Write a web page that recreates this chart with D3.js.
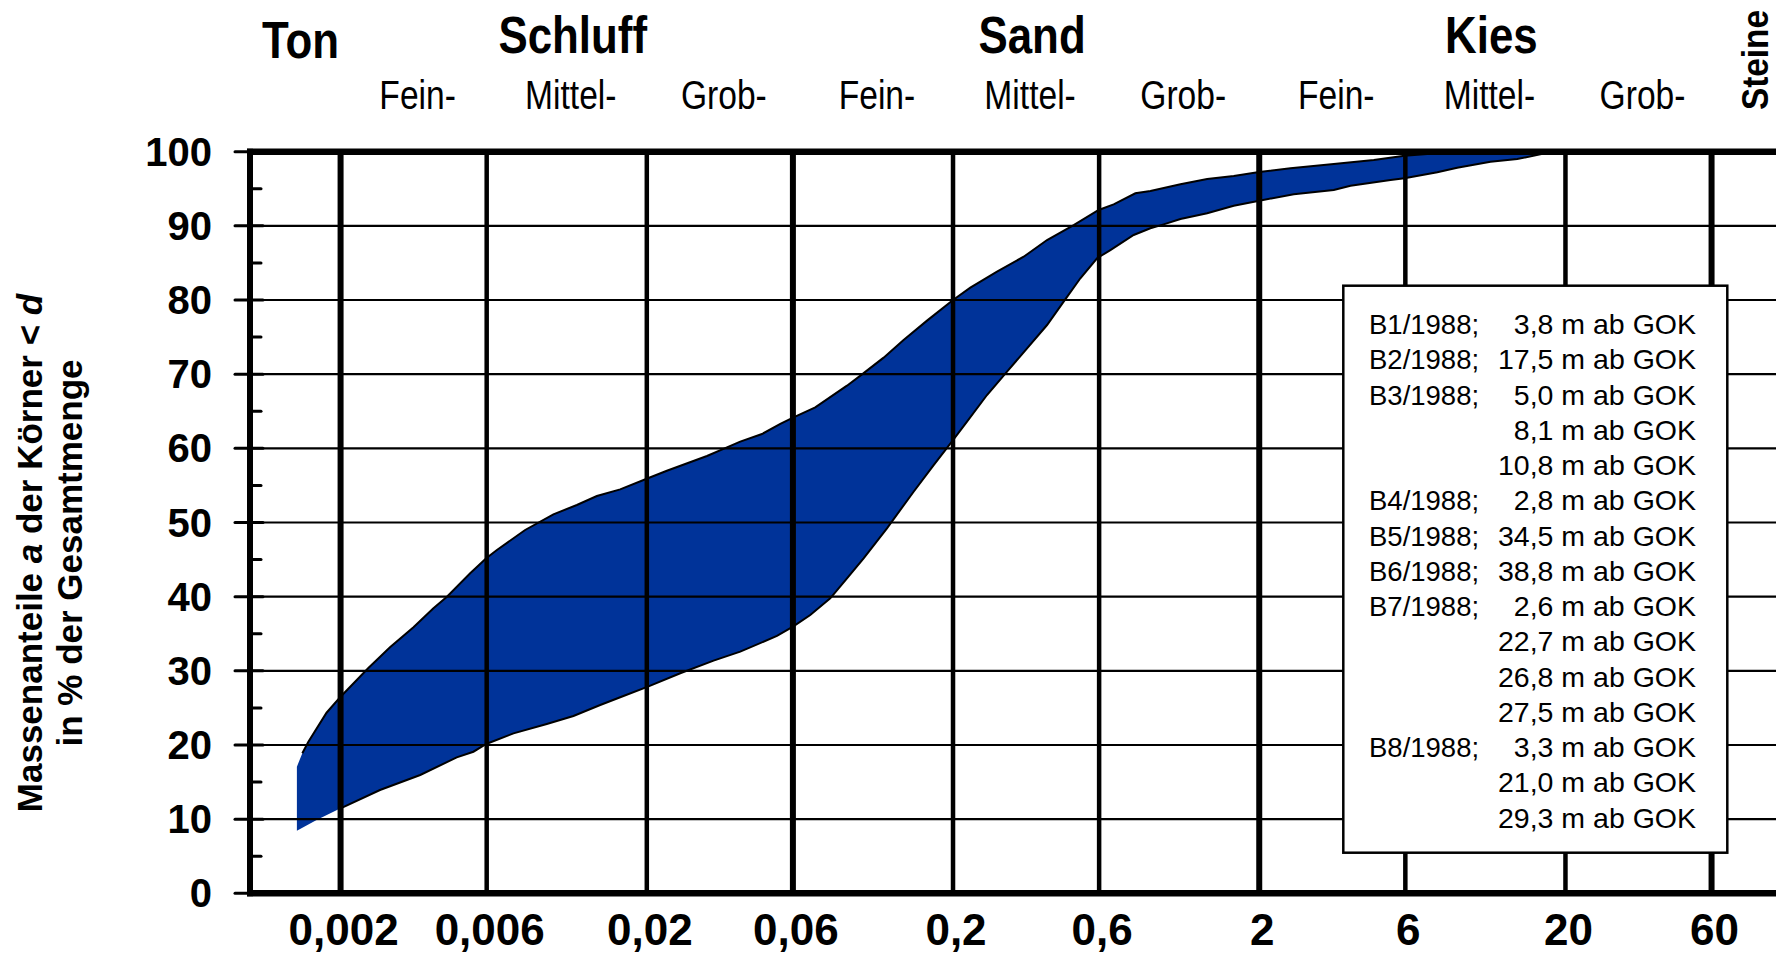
<!DOCTYPE html>
<html><head><meta charset="utf-8">
<script src="https://cdn.jsdelivr.net/npm/d3@7"></script>
<style>body{margin:0;background:#fff} svg{display:block}</style>
</head><body>
<svg id="c" width="1776" height="962"></svg>
<script>
// ---------------- data ----------------
const xTicks = [0.002, 0.006, 0.02, 0.06, 0.2, 0.6, 2, 6, 20, 60];
const xTickLabels = ["0,002", "0,006", "0,02", "0,06", "0,2", "0,6", "2", "6", "20", "60"];
const majorBounds = [0.002, 0.06, 2, 60];
const yTicks = [0, 10, 20, 30, 40, 50, 60, 70, 80, 90, 100];
const yMinorTicks = [5, 15, 25, 35, 45, 55, 65, 75, 85, 95];

const mainClasses = ["Ton", "Schluff", "Sand", "Kies"];
const mainBounds = [[0.001, 0.002], [0.002, 0.06], [0.06, 2], [2, 60]];
const stoneLabel = "Steine";
const subClasses = ["Fein-", "Mittel-", "Grob-", "Fein-", "Mittel-", "Grob-", "Fein-", "Mittel-", "Grob-"];
const subBounds = [[0.002, 0.006], [0.006, 0.02], [0.02, 0.06], [0.06, 0.2], [0.2, 0.6], [0.6, 2], [2, 6], [6, 20], [20, 60]];

// grain size curve envelope: [diameter in mm, passing %]
const upperCurve = [
  [0.00144, 17.07], [0.0015, 18.88], [0.00157, 20.44], [0.0018, 24.35], [0.002, 26.51], [0.00246, 30.34],
  [0.0029, 33.17], [0.00346, 35.87], [0.00402, 38.43], [0.00445, 40.0], [0.0053, 43.15], [0.00598, 45.17],
  [0.00648, 46.29], [0.00801, 48.99], [0.00991, 51.1], [0.01182, 52.36], [0.01374, 53.57], [0.01637, 54.47],
  [0.02017, 55.96], [0.02326, 56.98], [0.03144, 58.97], [0.03654, 60.14], [0.04038, 60.9], [0.04755, 61.93],
  [0.05458, 63.3], [0.06004, 64.14], [0.07098, 65.53], [0.0901, 68.45], [0.1009, 69.98], [0.1187, 72.23],
  [0.1379, 74.61], [0.1645, 77.22], [0.2, 80.0], [0.2278, 81.66], [0.2784, 83.82], [0.3402, 85.84],
  [0.4056, 88.09], [0.4954, 90.11], [0.598, 92.14], [0.6694, 92.9], [0.788, 94.39], [0.8822, 94.7],
  [1.106, 95.6], [1.352, 96.32], [1.651, 96.72], [2.0, 97.25], [2.529, 97.76], [3.503, 98.34],
  [4.733, 98.88], [5.96, 99.46], [7.63, 99.78], [8.8, 100]
];
const lowerCurve = [
  [0.00144, 8.44], [0.00167, 9.88], [0.002, 11.46], [0.00269, 13.93], [0.00364, 15.95], [0.00479, 18.33],
  [0.00543, 19.09], [0.00598, 20.13], [0.00734, 21.57], [0.00943, 22.83], [0.01152, 23.91], [0.01409, 25.39],
  [0.01678, 26.6], [0.02017, 27.86], [0.02572, 29.67], [0.03304, 31.37], [0.04038, 32.58], [0.05322, 34.7],
  [0.06004, 35.95], [0.06836, 37.53], [0.07945, 39.78], [0.0901, 42.47], [0.1021, 45.17], [0.1217, 49.22],
  [0.1487, 54.15], [0.1729, 57.75], [0.2, 61.12], [0.2222, 63.59], [0.2582, 67.19], [0.3002, 70.34],
  [0.349, 73.49], [0.4056, 76.63], [0.4596, 79.78], [0.521, 82.93], [0.5908, 85.63], [0.653, 86.74],
  [0.778, 88.77], [0.8822, 89.67], [0.975, 90.2], [1.106, 90.92], [1.352, 91.69], [1.651, 92.72],
  [2.0, 93.4], [2.593, 94.26], [3.503, 94.84], [3.972, 95.42], [5.367, 96.18], [5.96, 96.41],
  [7.63, 97.22], [8.86, 97.84], [11.38, 98.65], [13.92, 99.01], [17.0, 99.75], [20.0, 100]
];

const legendBore = ["B1/1988;", "B2/1988;", "B3/1988;", "", "", "B4/1988;", "B5/1988;", "B6/1988;",
                    "B7/1988;", "", "", "", "B8/1988;", "", ""];
const legendDepth = ["3,8 m ab GOK", "17,5 m ab GOK", "5,0 m ab GOK", "8,1 m ab GOK", "10,8 m ab GOK",
                     "2,8 m ab GOK", "34,5 m ab GOK", "38,8 m ab GOK", "2,6 m ab GOK", "22,7 m ab GOK",
                     "26,8 m ab GOK", "27,5 m ab GOK", "3,3 m ab GOK", "21,0 m ab GOK", "29,3 m ab GOK"];

const yTitle1 = ["Massenanteile ", "a", " der Körner < ", "d"];
const yTitle2 = "in % der Gesamtmenge";

// ---------------- drawing ----------------
(function () {
const svg = d3.select("#c");
const FONT = "'Liberation Sans', Arial, Helvetica, sans-serif";
const x = d3.scaleLog().domain([0.001, 100]).range([248.4, 1779.5]);
const y = d3.scaleLinear().domain([0, 100]).range([893.3, 151.7]);
const pLeft = 250, pRight = 1776, pTop = y(100), pBottom = y(0);

svg.append("rect").attr("width", 1776).attr("height", 962).attr("fill", "#fff");

// band
const poly = upperCurve.concat(lowerCurve.slice().reverse());
const line = d3.line().x(d => x(d[0])).y(d => y(d[1]));
svg.append("path").attr("d", line(poly) + "Z").attr("fill", "#003399");
svg.append("path").attr("d", line(upperCurve.filter(d => d[0] >= 0.0015)))
  .attr("fill", "none").attr("stroke", "#000").attr("stroke-width", 2);
svg.append("path").attr("d", line(lowerCurve.filter(d => d[0] >= 0.0019)))
  .attr("fill", "none").attr("stroke", "#000").attr("stroke-width", 2);

// horizontal grid
svg.append("g").selectAll("line").data(yTicks.filter(v => v > 0 && v < 100)).join("line")
  .attr("x1", pLeft).attr("x2", pRight).attr("y1", d => y(d)).attr("y2", d => y(d))
  .attr("stroke", "#000").attr("stroke-width", 2.2);

// vertical grid
svg.append("g").selectAll("line").data(xTicks).join("line")
  .attr("x1", d => x(d)).attr("x2", d => x(d)).attr("y1", pTop).attr("y2", pBottom)
  .attr("stroke", "#000").attr("stroke-width", d => majorBounds.includes(d) ? 6 : 4.5);

// frame
svg.append("line").attr("x1", pLeft - 3).attr("x2", pRight).attr("y1", pTop).attr("y2", pTop)
  .attr("stroke", "#000").attr("stroke-width", 6.5);
svg.append("line").attr("x1", pLeft - 3).attr("x2", pRight).attr("y1", pBottom).attr("y2", pBottom)
  .attr("stroke", "#000").attr("stroke-width", 6.5);
svg.append("line").attr("x1", pLeft).attr("x2", pLeft).attr("y1", pTop - 3).attr("y2", pBottom + 3)
  .attr("stroke", "#000").attr("stroke-width", 6);

// y ticks
svg.append("g").selectAll("line").data(yTicks).join("line")
  .attr("x1", 235).attr("x2", 263).attr("y1", d => y(d)).attr("y2", d => y(d))
  .attr("stroke", "#000").attr("stroke-width", 3).attr("stroke-linecap", "round");
svg.append("g").selectAll("line").data(yMinorTicks).join("line")
  .attr("x1", pLeft).attr("x2", 261).attr("y1", d => y(d)).attr("y2", d => y(d))
  .attr("stroke", "#000").attr("stroke-width", 3).attr("stroke-linecap", "round");
svg.append("g").selectAll("text").data(yTicks).join("text")
  .attr("x", 212).attr("y", d => y(d) + 14).attr("text-anchor", "end")
  .attr("font-family", FONT).attr("font-weight", "bold").attr("font-size", 40)
  .text(d => d);

// x labels
svg.append("g").selectAll("text").data(xTicks).join("text")
  .attr("x", d => x(d) + 3).attr("y", 945).attr("text-anchor", "middle")
  .attr("font-family", FONT).attr("font-weight", "bold").attr("font-size", 44)
  .text((d, i) => xTickLabels[i]);

// y title
const t1 = svg.append("text").attr("transform", "translate(42,553) rotate(-90)")
  .attr("text-anchor", "middle").attr("font-family", FONT).attr("font-weight", "bold").attr("font-size", 35);
yTitle1.forEach((s, i) => t1.append("tspan").attr("font-style", i % 2 === 1 ? "italic" : "normal").text(s));
svg.append("text").attr("transform", "translate(82,553) rotate(-90)")
  .attr("text-anchor", "middle").attr("font-family", FONT).attr("font-weight", "bold").attr("font-size", 35)
  .text(yTitle2);

// classification labels (narrow)
const geo = b => Math.sqrt(b[0] * b[1]);
mainClasses.forEach((s, i) => {
  svg.append("g").attr("transform", `translate(${x(geo(mainBounds[i])) + 6},${i === 0 ? 58 : 53}) scale(0.86,1)`)
    .append("text").attr("text-anchor", "middle").attr("font-family", FONT)
    .attr("font-weight", "bold").attr("font-size", 51).text(s);
});
subClasses.forEach((s, i) => {
  svg.append("g").attr("transform", `translate(${x(geo(subBounds[i])) + 4},108.5) scale(0.84,1)`)
    .append("text").attr("text-anchor", "middle").attr("font-family", FONT)
    .attr("font-size", 40).text(s);
});
svg.append("text").attr("transform", "translate(1768,60) rotate(-90)")
  .attr("text-anchor", "middle").attr("font-family", FONT).attr("font-weight", "bold")
  .attr("font-size", 37).attr("textLength", 100).attr("lengthAdjust", "spacingAndGlyphs").text(stoneLabel);

// legend
svg.append("rect").attr("x", 1343.3).attr("y", 285.7).attr("width", 384).attr("height", 567)
  .attr("fill", "#fff").attr("stroke", "#000").attr("stroke-width", 2.5);
const lg = svg.append("g").attr("font-family", FONT);
legendDepth.forEach((s, i) => {
  const yy = 334 + i * 35.26;
  lg.append("text").attr("x", 1369).attr("y", yy).attr("font-size", 27.5).text(legendBore[i]);
  lg.append("text").attr("x", 1696).attr("y", yy).attr("font-size", 28.5).attr("text-anchor", "end").text(s);
});
})();
</script>
</body></html>
